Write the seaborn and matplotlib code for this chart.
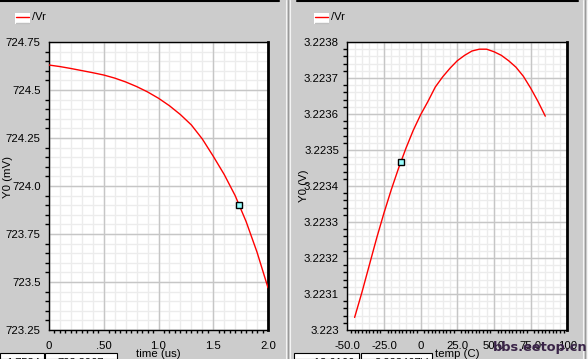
import numpy as np
import pandas as pd
import matplotlib
matplotlib.use("Agg")
import matplotlib.pyplot as plt
import seaborn as sns
from matplotlib.ticker import FixedLocator, FixedFormatter
from matplotlib.patches import Rectangle
from matplotlib.lines import Line2D

# ---------------- data ----------------
time_us = [0.0, 0.1, 0.2, 0.3, 0.4, 0.5, 0.6, 0.7, 0.8, 0.9, 1.0,
           1.1, 1.2, 1.3, 1.4, 1.5, 1.6, 1.7, 1.8, 1.9, 2.0]
y0_mv = [724.630, 724.622, 724.612, 724.601, 724.590, 724.578, 724.562,
         724.542, 724.518, 724.490, 724.457, 724.418, 724.372, 724.318,
         724.245, 724.155, 724.060, 723.950, 723.815, 723.655, 723.470]

temp_c = [-45, -40, -35, -30, -25, -20, -15, -10, -5, 0, 5, 10, 15, 20,
          25, 30, 35, 40, 45, 50, 55, 60, 65, 70, 75, 80, 85]
y0_v = [3.223035, 3.223105, 3.223180, 3.223255, 3.223325, 3.223390,
        3.223450, 3.223505, 3.223555, 3.223598, 3.223635, 3.223675,
        3.223703, 3.223727, 3.223748, 3.223763, 3.223775, 3.223780,
        3.223780, 3.223773, 3.223763, 3.223748, 3.223730, 3.223705,
        3.223672, 3.223635, 3.223594]

marker_time = 1.735
marker_temp = -13.6
legend_label = "/Vr"

left_xticks = [0.0, 0.5, 1.0, 1.5, 2.0]
left_xticklabels = ["0", ".50", "1.0", "1.5", "2.0"]
left_yticks = [723.25, 723.5, 723.75, 724.0, 724.25, 724.5, 724.75]
left_yticklabels = ["723.25", "723.5", "723.75", "724.0", "724.25", "724.5", "724.75"]
right_xticks = [-50, -25, 0, 25, 50, 75, 100]
right_xticklabels = ["-50.0", "-25.0", "0", "25.0", "50.0", "75.0", "100"]
right_yticks = [3.2230, 3.2231, 3.2232, 3.2233, 3.2234, 3.2235, 3.2236, 3.2237, 3.2238]
right_yticklabels = ["3.223", "3.2231", "3.2232", "3.2233", "3.2234", "3.2235",
                     "3.2236", "3.2237", "3.2238"]

df_time = pd.DataFrame({"time": time_us, "Y0": y0_mv})
df_temp = pd.DataFrame({"temp": temp_c, "Y0": y0_v})

# ---------------- style ----------------
sns.set_theme(style="white")
plt.rcParams['font.family'] = ['Liberation Sans', 'DejaVu Sans']
BG = '#cccccc'

W, H = 588, 359
fig = plt.figure(figsize=(W / 100, H / 100), dpi=100, facecolor=BG)


def rect(x0, x1, y0, y1):
    return [x0 / W, 1 - y1 / H, (x1 - x0) / W, (y1 - y0) / H]


axL = fig.add_axes(rect(49, 268, 42, 330))
axR = fig.add_axes(rect(347.3, 567.3, 42, 330))


def style_axis(ax, xticks, xlabels, yticks, ylabels):
    ax.set_facecolor('white')
    xt = np.array(xticks, dtype=float)
    yt = np.array(yticks, dtype=float)
    dx = xt[1] - xt[0]
    dy = yt[1] - yt[0]
    ax.set_xlim(xt[0], xt[-1])
    ax.set_ylim(yt[0], yt[-1])
    for v in np.arange(xt[0], xt[-1] + 1e-9 * abs(dx), dx / 5):
        ax.axvline(v, color='#ececec', lw=1.0, zorder=0.5)
    for v in np.arange(yt[0], yt[-1] + 1e-12, dy / 5):
        ax.axhline(v, color='#ececec', lw=1.0, zorder=0.5)
    for v in xt:
        ax.axvline(v, color='#c6c6c6', lw=1.0, zorder=0.6)
    for v in yt:
        ax.axhline(v, color='#c6c6c6', lw=1.0, zorder=0.6)
    ax.xaxis.set_major_locator(FixedLocator(xt))
    ax.xaxis.set_major_formatter(FixedFormatter(xlabels))
    ax.yaxis.set_major_locator(FixedLocator(yt))
    ax.yaxis.set_major_formatter(FixedFormatter(ylabels))
    ax.xaxis.set_minor_locator(FixedLocator(np.arange(xt[0], xt[-1] + 1e-9, dx / 10)))
    ax.yaxis.set_minor_locator(FixedLocator(np.arange(yt[0], yt[-1] + 1e-12, dy / 5)))
    ax.tick_params(axis='both', which='major', direction='out', color='black',
                   labelsize=8.2, labelcolor='black', width=1)
    ax.tick_params(axis='y', which='major', length=5, pad=1)
    ax.tick_params(axis='x', which='major', length=3, pad=5)
    ax.tick_params(axis='y', which='minor', direction='out', length=3, width=1,
                   color='black', left=True)
    ax.tick_params(axis='x', which='minor', direction='out', length=2, width=1,
                   color='black', bottom=True)
    for s in ['left', 'bottom', 'top']:
        ax.spines[s].set_visible(True)
        ax.spines[s].set_color('black')
        ax.spines[s].set_linewidth(1.0)
    ax.spines['right'].set_visible(True)
    ax.spines['right'].set_color('black')
    ax.spines['right'].set_linewidth(2.0)
    ax.set_xlabel('')
    ax.set_ylabel('')


sns.lineplot(data=df_time, x="time", y="Y0", ax=axL, color='#ff0000', lw=1.0,
             legend=False, zorder=3)
sns.lineplot(data=df_temp, x="temp", y="Y0", ax=axR, color='#ff0000', lw=1.0,
             legend=False, zorder=3)

style_axis(axL, left_xticks, left_xticklabels, left_yticks, left_yticklabels)
style_axis(axR, right_xticks, right_xticklabels, right_yticks, right_yticklabels)

# cursor markers placed on the curves
mL = np.interp(marker_time, time_us, y0_mv)
mR = np.interp(marker_temp, temp_c, y0_v)
axL.plot([marker_time], [mL], marker='s', ms=4.5, mfc='#9ff', mec='black',
         mew=1.0, zorder=5, clip_on=False)
axR.plot([marker_temp], [mR], marker='s', ms=4.5, mfc='#9ff', mec='black',
         mew=1.0, zorder=5, clip_on=False)

# axis labels
fig.text(8 / W, 1 - 177 / H, "Y0 (mV)", rotation=90, ha='center', va='center',
         fontsize=8.2, color='black')
fig.text(304 / W, 1 - 186 / H, "Y0 (V)", rotation=90, ha='center', va='center',
         fontsize=8.2, color='black')
fig.text(158 / W, 1 - 354 / H, "time (us)", ha='center', va='center',
         fontsize=8.2, color='black')
fig.text(457 / W, 1 - 354 / H, "temp (C)", ha='center', va='center',
         fontsize=8.2, color='black')

# legends
for lx, tx in [(15, 32), (314, 331)]:
    fig.patches.append(Rectangle((lx / W, 1 - 24 / H), 15 / W, 11 / H,
                                 transform=fig.transFigure, facecolor='white',
                                 edgecolor='none', zorder=1))
    fig.lines.append(Line2D([(lx + 1) / W, (lx + 14) / W], [1 - 17 / H, 1 - 17 / H],
                            transform=fig.transFigure, color='#ff0000', lw=1.0))
    fig.lines.append(Line2D([(lx + 1) / W, (lx + 14) / W], [1 - 22.5 / H, 1 - 22.5 / H],
                            transform=fig.transFigure, color='#c0c0c0', lw=1.0))
    fig.text(tx / W, 1 - 17 / H, legend_label, ha='left', va='center',
             fontsize=8, color='black')

# frame decorations
fig.lines.append(Line2D([0, 279 / W], [1 - 0.5 / H, 1 - 0.5 / H],
                        transform=fig.transFigure, color='black', lw=1.5))
fig.lines.append(Line2D([297 / W, 578 / W], [1 - 0.5 / H, 1 - 0.5 / H],
                        transform=fig.transFigure, color='black', lw=1.5))
for xv, col in [(285.5, '#f4f4f4'), (287.5, '#9a9a9a'), (289.5, '#f4f4f4'),
                (582.5, '#f4f4f4'), (584.5, '#9a9a9a'), (586.5, '#f4f4f4')]:
    fig.lines.append(Line2D([xv / W, xv / W], [0, 1], transform=fig.transFigure,
                            color=col, lw=0.8))

# status boxes at the bottom (cut off by the window edge)
for (x0, x1, txt) in [(0, 44, "1.7584"), (45, 117, "723.8967m"),
                      (294, 359, "-13.6166"), (361, 432, "3.223467V")]:
    fig.patches.append(Rectangle((x0 / W, 0), (x1 - x0) / W, 6 / H,
                                 transform=fig.transFigure, facecolor='white',
                                 edgecolor='black', lw=0.8))
    fig.text((x1 - 4) / W, -3.5 / H, txt, ha='right', va='center', fontsize=8,
             color='black')

# watermark
fig.text(587 / W, 1 - 347 / H, "bbs.eetop.cn", ha='right', va='center',
         fontsize=9.3, fontweight='bold', color='#3a2448',
         family=['Liberation Sans Narrow', 'DejaVu Sans'])

fig.savefig("out.png", dpi=100, facecolor=BG)
